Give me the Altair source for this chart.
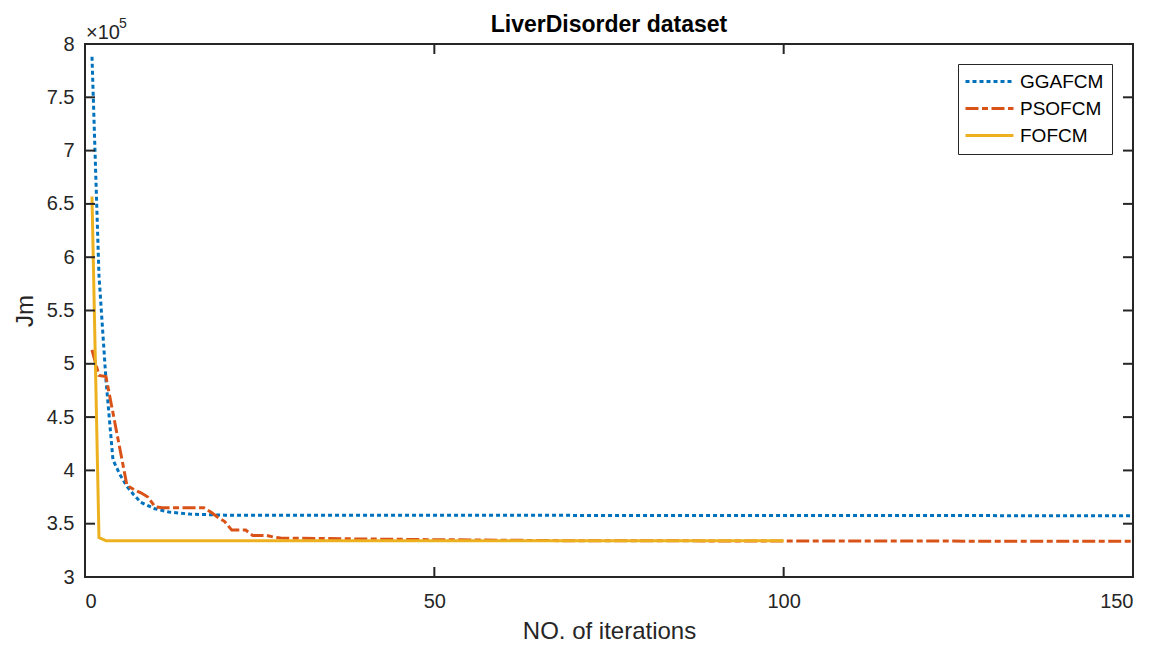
import altair as alt
import pandas as pd

methods = ["GGAFCM", "PSOFCM", "FOFCM"]
colors = ["#0072BD", "#D95319", "#EDB120"]

gga_iter = [1, 2, 3, 4, 5, 6, 7, 8, 9, 10, 12, 15, 20, 150]
gga_jm = [7.88, 5.83, 4.85, 4.10, 3.96, 3.85, 3.77, 3.70, 3.67, 3.64, 3.61, 3.59, 3.58, 3.575]

pso_iter = [1, 2, 3, 4, 5, 6, 7, 8, 9, 10, 11, 17, 18, 19, 20, 21, 23, 24, 26, 27, 28, 35, 50, 70, 150]
pso_jm = [5.13, 4.89, 4.88, 4.54, 4.20, 3.86, 3.82, 3.79, 3.75, 3.66, 3.65, 3.65, 3.61, 3.56,
          3.52, 3.44, 3.44, 3.39, 3.39, 3.375, 3.365, 3.36, 3.35, 3.34, 3.335]

fo_iter = [1, 2, 3, 100]
fo_jm = [6.57, 3.37, 3.34, 3.34]

x_ticks = [0, 50, 100, 150]
y_ticks = [3, 3.5, 4, 4.5, 5, 5.5, 6, 6.5, 7, 7.5, 8]

title_text = ["LiverDisorder dataset"]
exp_text = ["×10"]
exp_power = ["5"]

W, H = 1048, 533
FONT = "Liberation Sans"
AX = "#262626"

series = {
    "GGAFCM": (gga_iter, gga_jm),
    "PSOFCM": (pso_iter, pso_jm),
    "FOFCM": (fo_iter, fo_jm),
}

xscale = alt.Scale(domain=[0, 150], nice=False)
yscale = alt.Scale(domain=[3, 8], nice=False, zero=False)
xaxis = alt.Axis(values=x_ticks, format="d", ticks=False, tickSize=0, domain=False, grid=False,
                 labelFont=FONT, labelFontSize=20, labelColor=AX, labelPadding=14,
                 titleFont=FONT, titleFontSize=24, titleFontWeight="normal", titleColor=AX,
                 titlePadding=8)
yaxis = alt.Axis(values=y_ticks, format=".1~f", ticks=False, tickSize=0, domain=False, grid=False,
                 labelFont=FONT, labelFontSize=20, labelColor=AX, labelPadding=11,
                 titleFont=FONT, titleFontSize=24, titleFontWeight="normal", titleColor=AX,
                 titlePadding=9)


def X(field):
    return alt.X(field, scale=xscale, axis=xaxis, title="NO. of iterations")


def Y(field):
    return alt.Y(field, scale=yscale, axis=yaxis, title="Jm")


legend = alt.Legend(orient="none", legendX=873, legendY=20, symbolType="M-4,0H4", symbolSize=144,
                    symbolOffset=14, symbolStrokeWidth=3, labelFont=FONT, labelFontSize=19,
                    labelColor="black", strokeColor=AX, fillColor="white", padding=8,
                    rowPadding=7, labelOffset=21, title=None)
color_scale = alt.Scale(domain=methods, range=colors)
dash_scale = alt.Scale(domain=methods, range=[[4, 3], [13, 3.5, 6, 3.5], [1, 0]])
widths = {"GGAFCM": 3, "PSOFCM": 3, "FOFCM": 3}

layers = []
for m in methods:
    it, jm = series[m]
    df = pd.DataFrame({"iter": it, "jm": jm, "method": [m] * len(it)})
    layers.append(
        alt.Chart(df).mark_line(strokeWidth=widths[m], clip=True).encode(
            x=X("iter:Q"), y=Y("jm:Q"),
            color=alt.Color("method:N", scale=color_scale, legend=legend, title=None),
            strokeDash=alt.StrokeDash("method:N", scale=dash_scale, legend=legend, title=None),
        )
    )

xt = pd.DataFrame({"iter": x_ticks})
yt = pd.DataFrame({"jm": y_ticks})
tick_style = dict(color=AX, strokeWidth=2)
layers += [
    alt.Chart(xt).mark_rule(**tick_style).encode(x=X("iter:Q"), y=alt.value(H), y2=alt.value(H - 10)),
    alt.Chart(xt).mark_rule(**tick_style).encode(x=X("iter:Q"), y=alt.value(0), y2=alt.value(10)),
    alt.Chart(yt).mark_rule(**tick_style).encode(y=Y("jm:Q"), x=alt.value(0), x2=alt.value(10)),
    alt.Chart(yt).mark_rule(**tick_style).encode(y=Y("jm:Q"), x=alt.value(W), x2=alt.value(W - 10)),
]

layers += [
    alt.Chart(pd.DataFrame({"t": exp_text})).mark_text(
        align="left", baseline="alphabetic", font=FONT, fontSize=20, color=AX
    ).encode(x=alt.value(1), y=alt.value(-5), text="t:N"),
    alt.Chart(pd.DataFrame({"t": exp_power})).mark_text(
        align="left", baseline="alphabetic", font=FONT, fontSize=14, color=AX
    ).encode(x=alt.value(34), y=alt.value(-16), text="t:N"),
    alt.Chart(pd.DataFrame({"t": title_text})).mark_text(
        align="center", baseline="alphabetic", font=FONT, fontSize=23, fontWeight="bold", color="black"
    ).encode(x=alt.value(W / 2), y=alt.value(-12), text="t:N"),
]

chart = alt.layer(*layers).properties(
    width=W, height=H,
    autosize=alt.AutoSizeParams(type="none"),
    padding={"left": 77, "top": 36, "right": 16, "bottom": 62},
).configure_view(stroke=AX, strokeWidth=2)

chart.save("out.html", embed_options={"renderer": "svg", "actions": False})
